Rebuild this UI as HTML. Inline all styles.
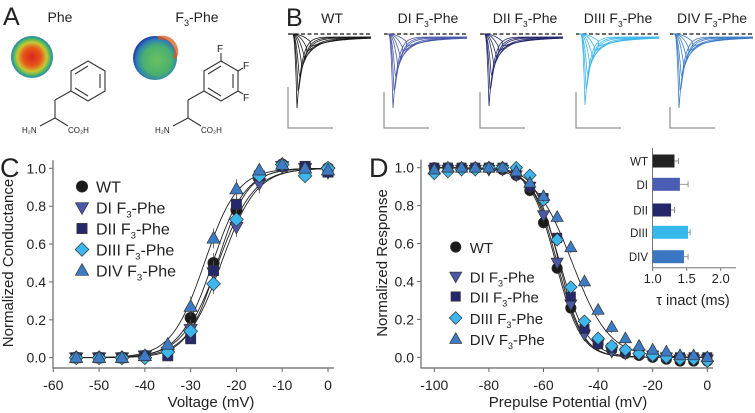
<!DOCTYPE html>
<html><head><meta charset="utf-8">
<style>
body{margin:0;background:#fff;width:755px;height:413px;overflow:hidden;font-family:"Liberation Sans",Arial,sans-serif;}
svg{display:block}
text{font-family:"Liberation Sans",Arial,sans-serif;fill:#222}
</style></head>
<body>
<svg id="fig" width="755" height="413" viewBox="0 0 755 413">
<defs>
<radialGradient id="g1" cx="50%" cy="50%" r="50%"><stop offset="0" stop-color="#d8261c"/><stop offset="0.45" stop-color="#e85a1a"/><stop offset="0.7" stop-color="#c8c830"/><stop offset="0.9" stop-color="#3ab070"/><stop offset="1" stop-color="#2a7ac0"/></radialGradient>
<radialGradient id="g2" cx="55%" cy="55%" r="55%"><stop offset="0" stop-color="#6cc060"/><stop offset="0.6" stop-color="#48b070"/><stop offset="0.85" stop-color="#3080b0"/><stop offset="1" stop-color="#2040b0"/></radialGradient>
</defs>
<!-- Panel A -->
<g>
<text x="3" y="25" font-size="25">A</text>
<text x="60" y="22" font-size="14" text-anchor="middle">Phe</text>
<text x="197" y="22" font-size="14" text-anchor="middle">F<tspan font-size="9" dy="4">3</tspan><tspan dy="-4">-Phe</tspan></text>
<circle cx="32" cy="57" r="21" fill="url(#g1)"/>
<circle cx="155" cy="58" r="22" fill="url(#g2)"/>
<path d="M158 38 q12 -2 17 8 q3 7 -1 12" fill="none" stroke="#d85a20" stroke-width="4" opacity="0.75"/>
<g stroke="#333" stroke-width="1.1" fill="none">
<polygon points="88,61 105,71 105,91 88,101 71,91 71,71"/>
<line x1="100" y1="74" x2="100" y2="88"/><line x1="75" y1="74" x2="88" y2="66"/><line x1="75" y1="88" x2="88" y2="96"/>
<line x1="71" y1="91" x2="55" y2="100"/><line x1="55" y1="100" x2="55" y2="118"/><line x1="55" y1="118" x2="40" y2="126"/><line x1="55" y1="118" x2="68" y2="126"/>
</g>
<text x="22" y="133" font-size="8">H₂N</text>
<text x="68" y="133" font-size="8">CO₂H</text>
<g stroke="#333" stroke-width="1.1" fill="none">
<polygon points="221,61 238,71 238,91 221,101 204,91 204,71"/>
<line x1="233" y1="74" x2="233" y2="88"/><line x1="208" y1="74" x2="221" y2="66"/><line x1="208" y1="88" x2="221" y2="96"/>
<line x1="221" y1="61" x2="221" y2="53"/><line x1="238" y1="71" x2="243" y2="68"/><line x1="238" y1="91" x2="243" y2="94"/>
<line x1="204" y1="91" x2="188" y2="100"/><line x1="188" y1="100" x2="188" y2="118"/><line x1="188" y1="118" x2="173" y2="126"/><line x1="188" y1="118" x2="201" y2="126"/>
</g>
<text x="217" y="52" font-size="10">F</text><text x="243" y="69" font-size="10">F</text><text x="243" y="101" font-size="10">F</text>
<text x="155" y="133" font-size="8">H₂N</text><text x="201" y="133" font-size="8">CO₂H</text>
</g>
<!-- Panel B -->
<g id="pb">
<text x="286" y="26" font-size="25">B</text>
</g>
<!-- Panel C -->
<g id="pc">
<text x="0" y="177" font-size="27">C</text>
</g>
<!-- Panel D -->
<g id="pd">
<text x="369" y="177" font-size="27">D</text>
</g>
</svg>
<script>
// ---------- data ----------
const traceLabels = ["WT","DI F3-Phe","DII F3-Phe","DIII F3-Phe","DIV F3-Phe"];
const traceAmps = [1.0,0.82,0.6,0.42,0.3,0.18,0.1];
const seriesNames = ["WT","DI","DII","DIII","DIV"];
const cVolt = [-55,-50,-45,-40,-35,-30,-25,-20,-15,-10,-5,0];
const cWT   = [0,0,0,0.01,0.04,0.21,0.50,0.78,0.96,1.02,1.00,1.00];
const cDI   = [0,0,0,0.01,0.03,0.15,0.45,0.69,0.92,1.01,1.00,0.98];
const cDII  = [0,0,0,0.01,0.01,0.10,0.46,0.81,0.96,1.01,1.01,0.98];
const cDIII = [0,0,0,0,0.03,0.14,0.39,0.73,0.96,1.02,0.96,1.00];
const cDIV  = [0,0,0,0.01,0.07,0.27,0.63,0.89,0.99,1.02,1.00,0.99];
const cHalf = [-25.2,-24.0,-24.2,-23.3,-27.0];
const cSlope = [3.6,3.9,3.3,3.8,3.6];
const cTicksX = [-60,-50,-40,-30,-20,-10,0];
const yTicks = [0,0.2,0.4,0.6,0.8,1.0];
const dVolt = [-100,-95,-90,-85,-80,-75,-70,-65,-60,-55,-50,-45,-40,-35,-30,-25,-20,-15,-10,-5,0];
const dWT   = [1,1,1,1,1,0.99,0.96,0.88,0.71,0.47,0.26,0.14,0.07,0.04,0.02,0.01,0,-0.01,-0.02,-0.02,-0.02];
const dDI   = [0.99,0.99,0.99,0.99,0.99,0.99,0.96,0.90,0.75,0.50,0.28,0.12,0.07,0.03,0.02,0.02,0.01,0,-0.01,-0.01,-0.01];
const dDII  = [1,1,1,1,1,1,0.97,0.90,0.84,0.63,0.32,0.15,0.07,0.05,0.03,0.02,0.01,0,0,0,0];
const dDIII = [0.97,0.98,0.99,0.99,1,1,1,0.96,0.83,0.62,0.37,0.19,0.10,0.06,0.04,0.02,0.01,0,-0.01,-0.01,-0.02];
const dDIV  = [0.99,1,1,1,1,1,0.98,0.92,0.85,0.74,0.58,0.40,0.25,0.16,0.10,0.06,0.04,0.03,0.01,0.01,0];
const dHalf = [-55.5,-55.0,-54.3,-54.0,-49.5];
const dSlope = [4.6,4.6,4.4,5.0,6.8];
const dTicksX = [-100,-80,-60,-40,-20,0];
const tauNames = ["WT","DI","DII","DIII","DIV"];
const tauVals = [1.32,1.40,1.27,1.52,1.46];
const tauErr = [0.06,0.12,0.05,0.03,0.06];
const tauTicks = [1.0,1.5,2.0];

// ---------- styling ----------
const colors = ["#1a1a1a","#4a58a8","#25296c","#3cb6ec","#3d7cc4"];
const barColors = ["#222222","#4b5db2","#24266a","#35b8ea","#3a76c2"];
const markers = ["circle","tdown","square","diamond","tup"];
const NS="http://www.w3.org/2000/svg";
function mk(tag,attrs,parent){const e=document.createElementNS(NS,tag);for(const k in attrs)e.setAttribute(k,attrs[k]);parent.appendChild(e);return e;}
function marker(parent,type,x,y,color,s){
  let e;
  if(type==="circle") e=mk("circle",{cx:x,cy:y,r:s*0.95},parent);
  else if(type==="square") e=mk("rect",{x:x-s*0.85,y:y-s*0.85,width:s*1.7,height:s*1.7},parent);
  else if(type==="diamond") e=mk("polygon",{points:`${x},${y-s*1.15} ${x+s*1.15},${y} ${x},${y+s*1.15} ${x-s*1.15},${y}`},parent);
  else if(type==="tup") e=mk("polygon",{points:`${x},${y-s*1.15} ${x+s*1.1},${y+s*0.8} ${x-s*1.1},${y+s*0.8}`},parent);
  else e=mk("polygon",{points:`${x},${y+s*1.15} ${x+s*1.1},${y-s*0.8} ${x-s*1.1},${y-s*0.8}`},parent);
  e.setAttribute("fill",color);e.setAttribute("stroke","#333");e.setAttribute("stroke-width","0.7");
  return e;
}
function sub3(parent,x,y,size,pre,anchor){
  const t=mk("text",{x:x,y:y,"font-size":size},parent);
  if(anchor)t.setAttribute("text-anchor",anchor);
  t.innerHTML=pre+' F<tspan font-size="'+(size*0.6)+'" dy="4">3</tspan><tspan dy="-4">-Phe</tspan>';
  return t;
}

// ---------- Panel B ----------
(function(){
  const g=document.getElementById("pb");
  const starts=[291,387,483,579,673];
  const peaks=[108,108,106,105,108];
  const centers=[332,428,525,618,712];
  for(let i=0;i<5;i++){
    const x0=starts[i];
    let lbl;
    if(i===0){lbl=mk("text",{x:centers[i],y:23,"font-size":14,"text-anchor":"middle"},g);lbl.textContent="WT";}
    else lbl=sub3(g,centers[i],23,14,seriesNames[i],"middle");
    
    
    const base=34;
    const dash=mk("line",{x1:x0-3,y1:base,x2:x0+80,y2:base,stroke:"#111","stroke-width":1.3,"stroke-dasharray":"4,2.5"},g);
    
    
    const fam=mk("g",{},g);
    
    
    const delays=[0,2,4,8,12,16,22];
    traceAmps.forEach((a,k)=>{
      const depth=(peaks[i]-base)*a;
      const tp=x0+6+delays[k]*0.6;
      let d=`M${x0} ${base}`;
      for(let x=x0;x<=x0+80;x+=1){
        let y;
        if(x<x0+2) y=base;
        else if(x<tp) y=base+depth*Math.pow((x-x0-2)/(tp-x0-2),2);
        else y=base+3+(depth-3)*Math.exp(-(x-tp)/(5+delays[k]*0.5))+ (1-a)*6*Math.exp(-(x-tp)/40);
        d+=` L${x} ${y.toFixed(1)}`;
      }
      mk("path",{d:d,fill:"none",stroke:colors[i],"stroke-width":0.8},fam);
    });
    const sb=mk("path",{d:`M${x0-3} ${i===0?87:i===4?107:92} V128 H${x0+42}`,fill:"none",stroke:"#777","stroke-width":1},g);
    
    
  }
})();

// ---------- shared plot builder ----------
function plot(g,cfg){
  const X=v=>cfg.x0+(v-cfg.xmin)/(cfg.xmax-cfg.xmin)*(cfg.x1-cfg.x0);
  const Y=v=>cfg.y0+(v-0)/(1)*(cfg.y1-cfg.y0);
  const ax=mk("path",{d:`M${cfg.axL} ${cfg.y1-8} V${cfg.axB} H${cfg.axR}`,fill:"none",stroke:"#666","stroke-width":1.2},g);
  
  yTicks.forEach(t=>{
    mk("line",{x1:cfg.axL-4,y1:Y(t),x2:cfg.axL,y2:Y(t),stroke:"#666"},g);
    const tx=mk("text",{x:cfg.axL-7,y:Y(t)+5,"font-size":14,"text-anchor":"end"},g);
    tx.textContent=t.toFixed(1);
    
  });
  cfg.xt.forEach(t=>{
    mk("line",{x1:X(t),y1:cfg.axB,x2:X(t),y2:cfg.axB+4,stroke:"#666"},g);
    const tx=mk("text",{x:X(t),y:cfg.axB+22,"font-size":14,"text-anchor":"middle"},g);
    tx.textContent=t;
    
  });
  const xt=mk("text",{x:cfg.xtitleX,y:407,"font-size":15,"text-anchor":"middle"},g);
  xt.textContent=cfg.xtitle;
  const yt=mk("text",{x:0,y:0,"font-size":15,"text-anchor":"middle",transform:`translate(${cfg.ytitleX},263) rotate(-90)`},g);
  yt.textContent=cfg.ytitle;
  cfg.half.forEach((h,i)=>{
    let d="";
    for(let v=cfg.xmin+(cfg.fitStart||0);v<=cfg.xmax;v+=0.5){
      const f=cfg.act?1/(1+Math.exp((h-v)/cfg.slope[i])):1/(1+Math.exp((v-h)/cfg.slope[i]));
      d+=(d?" L":"M")+X(v).toFixed(1)+" "+Y(f).toFixed(1);
    }
    const p=mk("path",{d:d,fill:"none",stroke:"#222","stroke-width":0.9},g);
    
  });
  cfg.series.forEach((s,i)=>{
    const sg=mk("g",{},g);
    
    
    s.forEach((v,k)=>{
      const x=X(cfg.volt[k]),y=Y(v);
      if(v>0.1&&v<0.95){mk("line",{x1:x,y1:y-cfg.err,x2:x,y2:y+cfg.err,stroke:"#555","stroke-width":0.8},sg);}
      const m=marker(sg,markers[i],x,y,colors[i],cfg.ms);
      
      
    });
  });
  cfg.legY.forEach((ly,i)=>{
    const lg=mk("g",{},g);
    
    
    marker(lg,markers[i],cfg.legX,ly,colors[i],cfg.ms);
    if(i===0){const t=mk("text",{x:cfg.legX+14,y:ly+6,"font-size":cfg.legFs},lg);t.textContent="WT";}
    else sub3(lg,cfg.legX+14,ly+6,cfg.legFs,seriesNames[i]);
  });
}

plot(document.getElementById("pc"),{
  x0:53.3,x1:328,xmin:-60,xmax:0,y0:357.7,y1:168.3,axL:53,axB:368,axR:334,
  xt:cTicksX,xtitle:"Voltage (mV)",xtitleX:211,ytitle:"Normalized Conductance",ytitleX:13,
  half:cHalf,slope:cSlope,act:true,fitStart:5,volt:cVolt,series:[cWT,cDI,cDII,cDIII,cDIV],
  err:10,ms:6,legX:82,legY:[186.5,207.5,228.5,249.5,270.5],legFs:16
});
plot(document.getElementById("pd"),{
  x0:434.3,x1:707.3,xmin:-100,xmax:0,y0:357.3,y1:167.7,axL:421,axB:368,axR:713,
  xt:dTicksX,xtitle:"Prepulse Potential (mV)",xtitleX:568,ytitle:"Normalized Response",ytitleX:387,
  half:dHalf,slope:dSlope,act:false,fitStart:0,volt:dVolt,series:[dWT,dDI,dDII,dDIII,dDIV],
  err:6,ms:5.5,legX:455.7,legY:[247,276.5,296.5,318,339],legFs:15
});

// ---------- inset bar chart ----------
(function(){
  const g=mk("g",{},document.getElementById("pd"));
  
  
  const X=v=>652.7+(v-1)/(1)*(720.7-652.7);
  const ys=[161,184.3,210,232.3,256.7];
  mk("path",{d:"M652.5 148 V267.7 H736",fill:"none",stroke:"#777","stroke-width":1},g);
  tauVals.forEach((v,i)=>{
    const b=mk("rect",{x:X(1),y:ys[i]-6.5,width:X(v)-X(1),height:13,fill:barColors[i]},g);
    
    
    mk("path",{d:`M${X(v)} ${ys[i]} H${X(v+tauErr[i])} M${X(v+tauErr[i])} ${ys[i]-3} V${ys[i]+3}`,stroke:"#888","stroke-width":0.9,fill:"none"},g);
    const t=mk("text",{x:648,y:ys[i]+4.5,"font-size":11.5,"text-anchor":"end"},g);
    t.textContent=tauNames[i];
    
  });
  tauTicks.forEach(t=>{
    mk("line",{x1:X(t),y1:267.7,x2:X(t),y2:271,stroke:"#777"},g);
    const tx=mk("text",{x:X(t),y:283,"font-size":13,"text-anchor":"middle"},g);
    tx.textContent=t.toFixed(1);
    
  });
  const tt=mk("text",{x:693,y:305,"font-size":14.5,"text-anchor":"middle"},g);
  tt.textContent="τ inact (ms)";
  
})();
</script>
</body></html>
